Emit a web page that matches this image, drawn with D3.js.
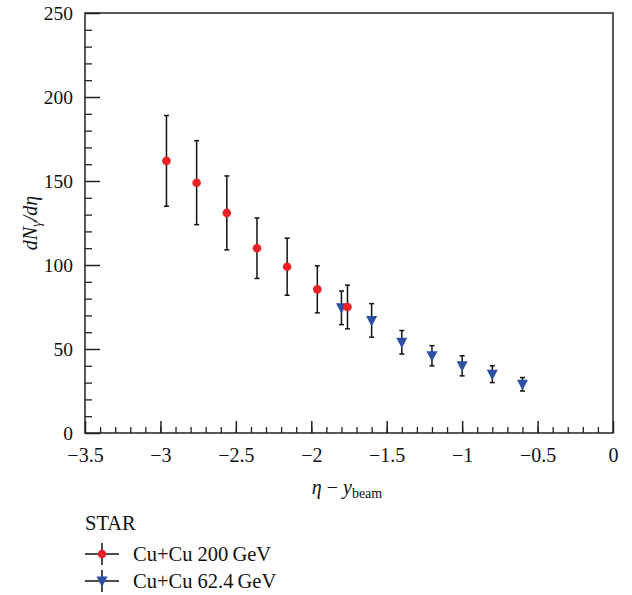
<!DOCTYPE html>
<html>
<head>
<meta charset="utf-8">
<script src="https://cdn.jsdelivr.net/npm/d3@7"></script>
<style>
  body { margin: 0; background: #fff; }
</style>
</head>
<body>
<svg id="chart" width="632" height="595"></svg>
<script>
// data
const cu200_x = [-2.96, -2.76, -2.56, -2.36, -2.16, -1.96, -1.76];
const cu200_y = [162, 149, 131, 110, 99, 85.5, 75];
const cu200_err = [27, 25, 22, 18, 17, 14, 13];

const cu62_x = [-1.8, -1.6, -1.4, -1.2, -1.0, -0.8, -0.6];
const cu62_y = [74.5, 67, 54, 46, 40, 35, 29];
const cu62_err = [10, 10, 7, 6, 6, 5, 4];

const xTicks = [-3.5, -3, -2.5, -2, -1.5, -1, -0.5, 0];
const yTicks = [0, 50, 100, 150, 200, 250];

const red = "#ec2227", blue = "#2c4ea3";
const FONT = "Liberation Serif";

const svg = d3.select("#chart");
const m = { left: 85, right: 613, top: 13, bottom: 433 };

const x = d3.scaleLinear().domain([-3.5, 0]).range([m.left, m.right]);
const y = d3.scaleLinear().domain([0, 250]).range([m.bottom, m.top]);

const fmt = d => (d < 0 ? "\u2212" + Math.abs(d) : "" + d);

// helper so every label gets the serif face
const label = (sel) => sel.attr("font-family", FONT).style("font-family", FONT).attr("fill", "#111");

// frame
svg.append("rect")
    .attr("x", m.left).attr("y", m.top)
    .attr("width", m.right - m.left).attr("height", m.bottom - m.top)
    .attr("fill", "none").attr("stroke", "#222").attr("stroke-width", 1.5);

// x axis, ticks pointing inward
const xAxis = d3.axisBottom(x).tickValues(xTicks).tickFormat(fmt).tickSize(-12).tickPadding(15);
const gx = svg.append("g").attr("transform", "translate(0," + m.bottom + ")").call(xAxis);
gx.select(".domain").remove();
gx.selectAll(".tick line").attr("stroke", "#222").attr("stroke-width", 1.5);
gx.selectAll(".tick text").call(label).attr("font-size", 20);

const xMinor = d3.axisBottom(x).tickValues(d3.range(-34, 0).map(d => d / 10)).tickFormat("").tickSize(-6);
const gxm = svg.append("g").attr("transform", "translate(0," + m.bottom + ")").call(xMinor);
gxm.select(".domain").remove();
gxm.selectAll(".tick line").attr("stroke", "#222").attr("stroke-width", 1.3);

// y axis
const yAxis = d3.axisLeft(y).tickValues(yTicks).tickFormat(fmt).tickSize(-15).tickPadding(12);
const gy = svg.append("g").attr("transform", "translate(" + m.left + ",0)").call(yAxis);
gy.select(".domain").remove();
gy.selectAll(".tick line").attr("stroke", "#222").attr("stroke-width", 1.5);
gy.selectAll(".tick text").call(label).attr("font-size", 19.5).attr("dy", "0.35em");

const yMinor = d3.axisLeft(y).tickValues(d3.range(10, 250, 10).filter(d => d % 50)).tickFormat("").tickSize(-7);
const gym = svg.append("g").attr("transform", "translate(" + m.left + ",0)").call(yMinor);
gym.select(".domain").remove();
gym.selectAll(".tick line").attr("stroke", "#222").attr("stroke-width", 1.3);

// axis labels
svg.append("text").call(label)
    .attr("x", 347).attr("y", 494)
    .attr("text-anchor", "middle").attr("font-size", 20)
    .html('<tspan font-style="italic">\u03b7</tspan> \u2212 <tspan font-style="italic">y</tspan><tspan font-size="14" dy="4">beam</tspan>');

svg.append("text").call(label)
    .attr("transform", "translate(37,223) rotate(-90)")
    .attr("text-anchor", "middle").attr("font-size", 20).attr("font-style", "italic")
    .html('dN<tspan font-size="14" dy="4">\u03b3</tspan><tspan dy="-4">/d\u03b7</tspan>');

// error bars
function errBars(xs, ys, es) {
  const g = svg.append("g").attr("stroke", "#111").attr("stroke-width", 1.5);
  xs.forEach((xv, i) => {
    const px = x(xv), top = y(ys[i] + es[i]), bot = y(ys[i] - es[i]);
    g.append("line").attr("x1", px).attr("x2", px).attr("y1", top).attr("y2", bot);
    g.append("line").attr("x1", px - 2.5).attr("x2", px + 2.5).attr("y1", top).attr("y2", top);
    g.append("line").attr("x1", px - 2.5).attr("x2", px + 2.5).attr("y1", bot).attr("y2", bot);
  });
}
errBars(cu62_x, cu62_y, cu62_err);
errBars(cu200_x, cu200_y, cu200_err);

const tri = "M-5.5,-4.5L5.5,-4.5L0,6Z";

svg.append("g").selectAll("path")
  .data(cu62_x.map((d, i) => [d, cu62_y[i]]))
  .join("path")
    .attr("d", tri)
    .attr("transform", d => "translate(" + x(d[0]) + "," + y(d[1]) + ")")
    .attr("fill", blue);

svg.append("g").selectAll("circle")
  .data(cu200_x.map((d, i) => [d, cu200_y[i]]))
  .join("circle")
    .attr("cx", d => x(d[0])).attr("cy", d => y(d[1]))
    .attr("r", 4.3).attr("fill", red);

// legend
svg.append("text").call(label).attr("x", 85).attr("y", 530).attr("font-size", 20.5).text("STAR");
const leg = [
  { label: "Cu+Cu 200\u2009GeV", ly: 554, kind: "circle" },
  { label: "Cu+Cu 62.4\u2009GeV", ly: 581, kind: "tri" }
];
leg.forEach(l => {
  const g = svg.append("g");
  g.append("line").attr("x1", 85).attr("x2", 119).attr("y1", l.ly).attr("y2", l.ly)
    .attr("stroke", "#111").attr("stroke-width", 1.5);
  g.append("line").attr("x1", 102).attr("x2", 102).attr("y1", l.ly - 11).attr("y2", l.ly + 11)
    .attr("stroke", "#111").attr("stroke-width", 1.5);
  if (l.kind === "circle") {
    g.append("circle").attr("cx", 102).attr("cy", l.ly).attr("r", 4.3).attr("fill", red);
  } else {
    g.append("path").attr("d", tri).attr("transform", "translate(102," + l.ly + ")").attr("fill", blue);
  }
  g.append("text").call(label).attr("x", 133).attr("y", l.ly + 7).attr("font-size", 20.5).text(l.label);
});
</script>
</body>
</html>
